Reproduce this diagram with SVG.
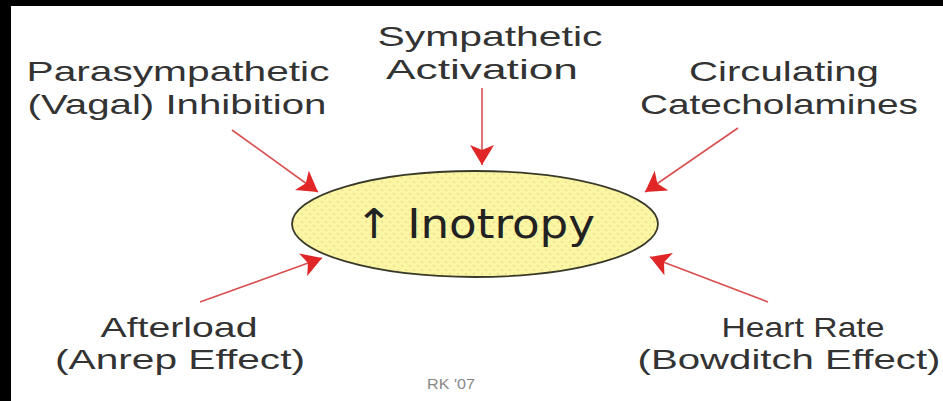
<svg xmlns="http://www.w3.org/2000/svg" width="943" height="401" viewBox="0 0 943 401">
<style>
.lbl{font-family:"Liberation Sans",Arial,sans-serif;font-size:28px;fill:#333;text-anchor:middle}
.conn{stroke:#d85050;stroke-width:1.6;fill:none}
</style>
<defs>
<marker id="ah" viewBox="0 0 20 24" refX="20" refY="12" markerWidth="20" markerHeight="24" markerUnits="userSpaceOnUse" orient="auto">
<path d="M0,0 L20,12 L0,24 L5,12 Z" fill="#e02626"/>
</marker>
<pattern id="dots" width="8" height="8" patternUnits="userSpaceOnUse">
<rect width="8" height="8" fill="#faf6a4"/>
<circle cx="2" cy="2" r="0.8" fill="#e6cc78"/>
<circle cx="6" cy="6" r="0.8" fill="#e6cc78"/>
</pattern>
</defs>
<rect width="943" height="401" fill="#fff"/>
<rect x="0" y="0" width="943" height="6" fill="#000"/>
<rect x="0" y="0" width="11" height="401" fill="#000"/>
<g id="connectors">
<line class="conn" x1="482" y1="88" x2="482" y2="165" marker-end="url(#ah)"/>
<line class="conn" x1="232" y1="130" x2="318" y2="192" marker-end="url(#ah)"/>
<line class="conn" x1="200" y1="302" x2="322" y2="258" marker-end="url(#ah)"/>
<line class="conn" x1="738" y1="128" x2="645" y2="192" marker-end="url(#ah)"/>
<line class="conn" x1="768" y1="302" x2="650" y2="257" marker-end="url(#ah)"/>
</g>
<g id="inotropy">
<ellipse cx="475" cy="224" rx="183" ry="53" fill="url(#dots)" stroke="#3a3a2a" stroke-width="1.8"/>
<text x="475" y="238" font-family="'DejaVu Sans',Verdana,sans-serif" font-size="41" fill="#222" text-anchor="middle" textLength="240" lengthAdjust="spacingAndGlyphs">↑ Inotropy</text>
</g>
<g id="sympathetic">
<text class="lbl" x="490" y="46" textLength="225" lengthAdjust="spacingAndGlyphs">Sympathetic</text>
<text class="lbl" x="482" y="79" textLength="192" lengthAdjust="spacingAndGlyphs">Activation</text>
</g>
<g id="parasympathetic">
<text class="lbl" x="178" y="81" textLength="303" lengthAdjust="spacingAndGlyphs">Parasympathetic</text>
<text class="lbl" x="177" y="114" textLength="299" lengthAdjust="spacingAndGlyphs">(Vagal) Inhibition</text>
</g>
<g id="catecholamines">
<text class="lbl" x="784" y="81" textLength="190" lengthAdjust="spacingAndGlyphs">Circulating</text>
<text class="lbl" x="779" y="114" textLength="278" lengthAdjust="spacingAndGlyphs">Catecholamines</text>
</g>
<g id="afterload">
<text class="lbl" x="179" y="337" textLength="157" lengthAdjust="spacingAndGlyphs">Afterload</text>
<text class="lbl" x="180" y="369" textLength="250" lengthAdjust="spacingAndGlyphs">(Anrep Effect)</text>
</g>
<g id="heartrate">
<text class="lbl" x="803" y="337" textLength="163" lengthAdjust="spacingAndGlyphs">Heart Rate</text>
<text class="lbl" x="789" y="369" textLength="303" lengthAdjust="spacingAndGlyphs">(Bowditch Effect)</text>
</g>
<text x="451" y="389" font-family="'Liberation Sans',Arial,sans-serif" font-size="14" fill="#888" text-anchor="middle" textLength="48" lengthAdjust="spacingAndGlyphs">RK '07</text>
</svg>
